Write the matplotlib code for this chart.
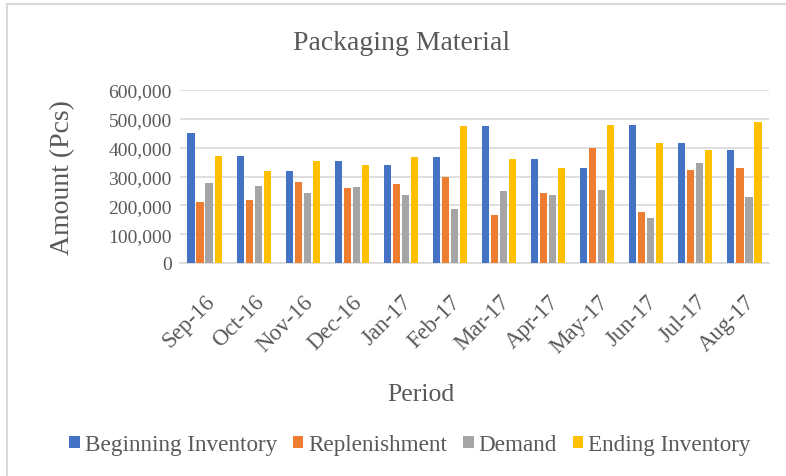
import numpy as np
import matplotlib.pyplot as plt
from matplotlib.patches import Rectangle
from matplotlib.ticker import FuncFormatter

periods = ['Sep-16', 'Oct-16', 'Nov-16', 'Dec-16', 'Jan-17', 'Feb-17',
           'Mar-17', 'Apr-17', 'May-17', 'Jun-17', 'Jul-17', 'Aug-17']
beginning = [451000, 370000, 319000, 355000, 341000, 368000,
             475000, 361000, 328000, 479000, 416000, 391000]
replenishment = [210000, 220000, 281000, 260000, 274000, 299000,
                 166000, 244000, 400000, 176000, 321000, 329000]
demand = [278000, 267000, 243000, 265000, 237000, 187000,
          251000, 236000, 253000, 155000, 347000, 228000]
ending = [370000, 319000, 355000, 341000, 368000, 475000,
          361000, 329000, 479000, 416000, 391000, 490000]

series = ['Beginning Inventory', 'Replenishment', 'Demand', 'Ending Inventory']
colors = ['#4472C4', '#ED7D31', '#A5A5A5', '#FFC000']
txt = '#595959'

plt.rcParams['font.family'] = ['Liberation Serif', 'DejaVu Serif']

fig = plt.figure(figsize=(7.86, 4.77), dpi=100)
# chart border (only left/top edges visible in crop)
fig.patches.append(Rectangle((7 / 786, -0.1), 1.2, 1 - 5 / 477 + 0.1,
                             transform=fig.transFigure, fill=False,
                             edgecolor='#D9D9D9', linewidth=1.5))

ax = fig.add_axes([180 / 786, 1 - 264 / 477, 589 / 786, 173 / 477])
x = np.arange(len(periods))
step = 0.184
width = 0.145
for i, (vals, c, name) in enumerate(zip([beginning, replenishment, demand, ending], colors, series)):
    ax.bar(x + (i - 1.5) * step, vals, width, color=c, label=name, zorder=3)

ax.set_xlim(-0.5, len(periods) - 0.5)
ax.set_ylim(0, 600000)
ax.set_yticks(np.arange(0, 600001, 100000))
ax.yaxis.set_major_formatter(FuncFormatter(lambda v, p: f'{int(v):,}'))
ax.grid(axis='y', color='#D9D9D9', linewidth=1.2, zorder=0)
for s in ['top', 'right', 'left']:
    ax.spines[s].set_visible(False)
ax.spines['bottom'].set_color('#D9D9D9')
ax.spines['bottom'].set_linewidth(1.2)
ax.tick_params(length=0, colors=txt)
ax.tick_params(axis='y', pad=6, labelsize=14)
ax.set_xticks(x)
ax.set_xticklabels(periods, rotation=45, ha='right', va='top',
                   rotation_mode='anchor')
ax.tick_params(axis='x', pad=20, labelsize=16.5)

ax.set_ylabel('Amount (Pcs)', fontsize=20, color=txt, labelpad=24)
fig.text(421 / 786, 1 - 395 / 477, 'Period', fontsize=18.5, color=txt,
         ha='center', va='center')
fig.text(402 / 786, 1 - 43 / 477, 'Packaging Material', fontsize=20,
         color=txt, ha='center', va='center')

fig.legend(loc='center', bbox_to_anchor=(410 / 786, 1 - 446 / 477), ncol=4,
           frameon=False, fontsize=16.7, labelcolor=txt, handlelength=0.45,
           handleheight=0.45, handletextpad=0.2, columnspacing=0.7)

fig.savefig('out.png', dpi=100)
